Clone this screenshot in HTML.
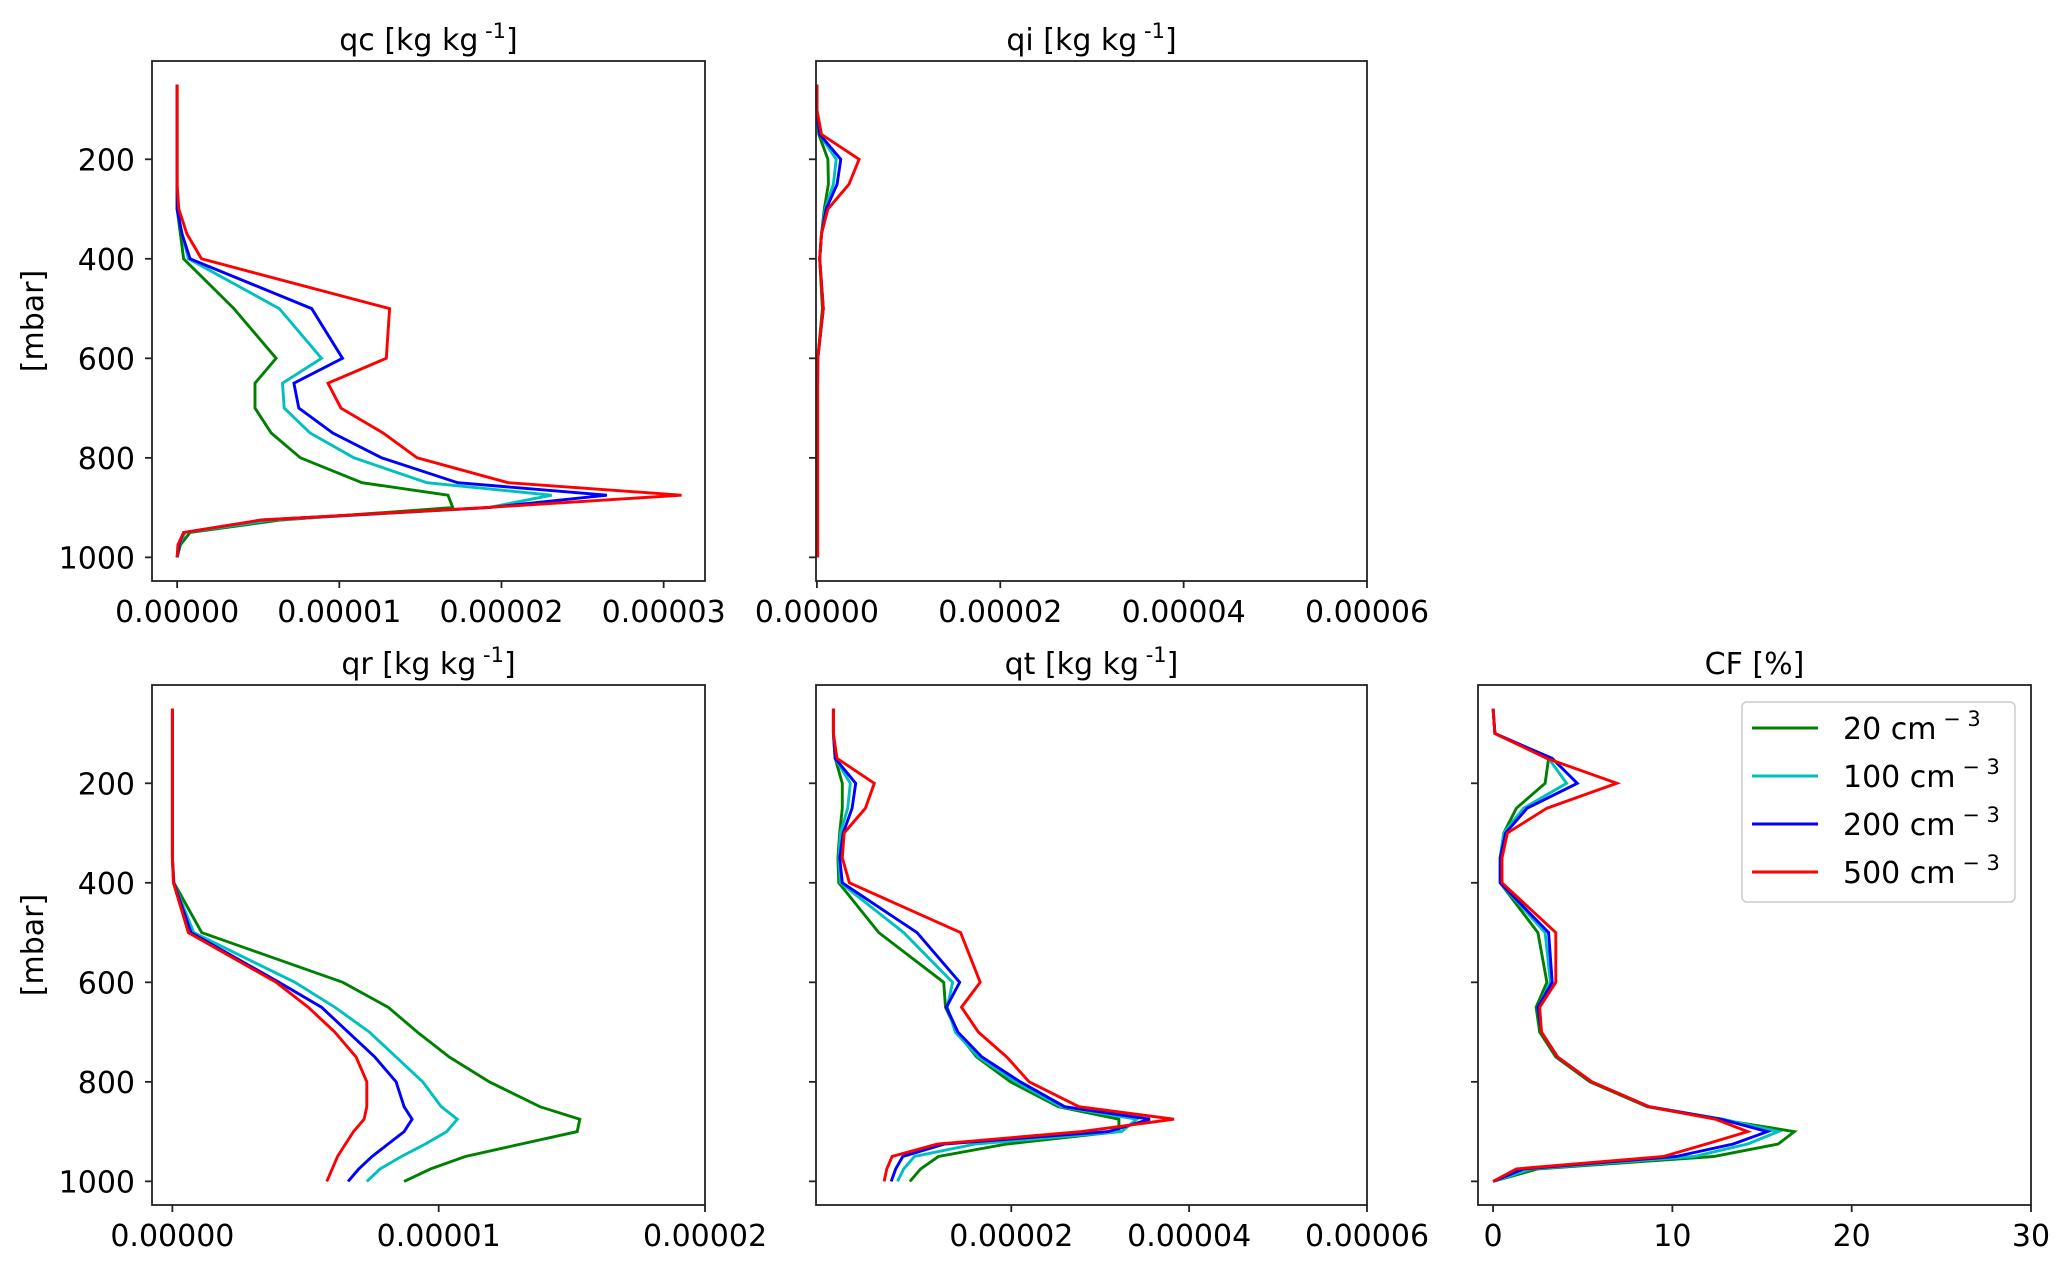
<!DOCTYPE html>
<html><head><meta charset="utf-8"><style>
html,body{margin:0;padding:0;background:#fff}
svg{display:block;font-family:"DejaVu Sans","Liberation Sans",sans-serif}
</style></head><body>
<svg id="fig" width="2067" height="1262" viewBox="0 0 2067 1262" xmlns="http://www.w3.org/2000/svg"></svg>
<script>
const levels=[50,100,150,200,250,300,350,400,500,600,650,700,750,800,850,875,900,925,950,975,1000];
const seriesNames=["20 cm","100 cm","200 cm","500 cm"];
const colors=["#008000","#00bfbf","#0000ff","#ff0000"];
// qc (units 1e-5)
const qcGreen=[0,0,0,0,0,0,0.02,0.04,0.35,0.61,0.48,0.48,0.58,0.76,1.14,1.67,1.70,0.64,0.08,0.02,0];
const qcCyan=[0,0,0,0,0,0,0.03,0.07,0.63,0.89,0.65,0.66,0.82,1.09,1.54,2.31,1.92,0.58,0.05,0.01,0];
const qcBlue=[0,0,0,0,0,0,0.03,0.08,0.83,1.02,0.72,0.75,0.96,1.26,1.73,2.65,1.92,0.52,0.04,0.01,0];
const qcRed=[0,0,0,0,0,0.01,0.06,0.15,1.31,1.29,0.93,1.01,1.27,1.48,2.04,3.11,1.90,0.52,0.04,0.005,0];
// qi (units 1e-6)
const qiGreen=[0,0,0.2,1.2,1.25,0.8,0.5,0.3,0.6,0.1,0.07,0.07,0.07,0.07,0.07,0.07,0.07,0.07,0.07,0.07,0.07];
const qiCyan=[0,0,0.3,2.1,1.8,0.9,0.5,0.3,0.7,0.1,0.07,0.07,0.07,0.07,0.07,0.07,0.07,0.07,0.07,0.07,0.07];
const qiBlue=[0,0,0.3,2.6,2.2,1.0,0.5,0.3,0.7,0.1,0.07,0.07,0.07,0.07,0.07,0.07,0.07,0.07,0.07,0.07,0.07];
const qiRed=[0,0,0.5,4.6,3.5,1.2,0.5,0.3,0.7,0.1,0.07,0.07,0.07,0.07,0.07,0.07,0.07,0.07,0.07,0.07,0.07];
// qr (units 1e-5)
const qrGreen=[0,0,0,0,0,0,0,0.006,0.11,0.64,0.81,0.92,1.04,1.19,1.38,1.53,1.52,1.31,1.10,0.97,0.87];
const qrCyan=[0,0,0,0,0,0,0,0.005,0.08,0.46,0.61,0.74,0.84,0.94,1.01,1.07,1.03,0.95,0.86,0.78,0.73];
const qrBlue=[0,0,0,0,0,0,0,0.005,0.07,0.40,0.56,0.66,0.76,0.84,0.87,0.90,0.87,0.81,0.75,0.70,0.66];
const qrRed=[0,0,0,0,0,0,0,0.004,0.06,0.39,0.51,0.61,0.69,0.73,0.73,0.72,0.68,0.65,0.62,0.60,0.58];
// qt (units 1e-5)
const qtGreen=[0,0,0.02,0.10,0.10,0.07,0.05,0.06,0.51,1.24,1.26,1.39,1.61,1.99,2.53,3.21,3.21,1.95,1.18,0.98,0.86];
const qtCyan=[0,0,0.02,0.19,0.16,0.08,0.06,0.08,0.79,1.34,1.28,1.37,1.63,2.05,2.56,3.41,3.24,1.60,0.91,0.79,0.72];
const qtBlue=[0,0,0.02,0.25,0.21,0.11,0.07,0.10,0.94,1.42,1.27,1.40,1.67,2.10,2.60,3.56,3.09,1.25,0.78,0.70,0.65];
const qtRed=[0,0,0.04,0.46,0.36,0.12,0.10,0.18,1.43,1.65,1.44,1.63,1.95,2.20,2.76,3.83,2.79,1.17,0.66,0.60,0.57];
// CF (%)
const cfGreen=[0,0.1,3.1,2.9,1.3,0.6,0.4,0.4,2.5,3.0,2.4,2.6,3.5,5.4,8.6,12.5,16.8,15.9,12.3,2.5,0];
const cfCyan=[0,0.1,3.1,4.1,1.7,0.6,0.4,0.4,2.9,3.2,2.5,2.7,3.6,5.5,8.7,12.8,15.9,14.2,11.2,2.1,0];
const cfBlue=[0,0.1,3.3,4.7,1.9,0.7,0.4,0.4,3.1,3.3,2.5,2.7,3.6,5.5,8.7,12.7,15.3,13.4,10.2,1.7,0];
const cfRed=[0,0.1,3.0,6.9,3.0,0.8,0.5,0.5,3.5,3.5,2.6,2.7,3.6,5.5,8.7,12.4,14.2,11.9,9.5,1.3,0];
const yTicks=[200,400,600,800,1000];
const qcTicks=["0.00000","0.00001","0.00002","0.00003"];
const qiTicks=["0.00000","0.00002","0.00004","0.00006"];
const qrTicks=["0.00000","0.00001","0.00002"];
const qtTicks=["0.00002","0.00004","0.00006"];
const cfTicks=["0","10","20","30"];

const NS="http://www.w3.org/2000/svg";
const svg=document.getElementById('fig');
function mk(tag,attrs,parent){const e=document.createElementNS(NS,tag);for(const k in attrs)e.setAttribute(k,attrs[k]);(parent||svg).appendChild(e);return e;}

const panels=[
 {name:"qc",title:"qc",unit:true,x0:152,x1:705,y0:61,y1:581,xmin:-1.55e-6,xmax:3.255e-5,scale:1e-5,ticks:qcTicks,step:1e-5,tickStart:0,series:[qcGreen,qcCyan,qcBlue,qcRed],ylabels:true},
 {name:"qi",title:"qi",unit:true,x0:816,x1:1367,y0:61,y1:581,xmin:-1e-7,xmax:6e-5,scale:1e-6,ticks:qiTicks,step:2e-5,tickStart:0,series:[qiGreen,qiCyan,qiBlue,qiRed],ylabels:false},
 {name:"qr",title:"qr",unit:true,x0:152,x1:705,y0:685,y1:1205,xmin:-7.65e-7,xmax:2e-5,scale:1e-5,ticks:qrTicks,step:1e-5,tickStart:0,series:[qrGreen,qrCyan,qrBlue,qrRed],ylabels:true},
 {name:"qt",title:"qt",unit:true,x0:816,x1:1367,y0:685,y1:1205,xmin:-1.96e-6,xmax:6e-5,scale:1e-5,ticks:qtTicks,step:2e-5,tickStart:2e-5,series:[qtGreen,qtCyan,qtBlue,qtRed],ylabels:false},
 {name:"cf",title:"CF [%]",unit:false,x0:1478,x1:2031,y0:685,y1:1205,xmin:-0.84,xmax:30,scale:1,ticks:cfTicks,step:10,tickStart:0,series:[cfGreen,cfCyan,cfBlue,cfRed],ylabels:false}
];

panels.forEach(p=>{
  const g=mk('g',{});
  
  
  const X=v=>p.x0+(v-p.xmin)/(p.xmax-p.xmin)*(p.x1-p.x0);
  const Y=v=>p.y0+(v-2.5)/(1047.5-2.5)*(p.y1-p.y0);
  p.series.forEach((s,i)=>{
    const pts=s.map((v,j)=>X(v*p.scale).toFixed(1)+','+Y(levels[j]).toFixed(1)).join(' ');
    const l=mk('polyline',{points:pts,fill:'none',stroke:colors[i],'stroke-width':2.9,'stroke-linejoin':'miter'},g);
    
    
  });
  const fr=mk('rect',{x:p.x0,y:p.y0,width:p.x1-p.x0,height:p.y1-p.y0,fill:'none',stroke:'#222','stroke-width':1.8},g);
  
  
  yTicks.forEach(t=>{
    const y=Y(t);
    mk('line',{x1:p.x0-7,x2:p.x0,y1:y,y2:y,stroke:'#222','stroke-width':1.8},g);
    if(p.ylabels){
      const tx=mk('text',{x:p.x0-17,y:y+11,'text-anchor':'end','font-size':30,fill:'#000'},g);
      tx.textContent=t;
      
      
    }
  });
  p.ticks.forEach((lab,i)=>{
    const x=X(p.tickStart+i*p.step);
    mk('line',{x1:x,x2:x,y1:p.y1,y2:p.y1+7,stroke:'#222','stroke-width':1.8},g);
    const tx=mk('text',{x:x,y:p.y1+41,'text-anchor':'middle','font-size':30,fill:'#000'},g);
    tx.textContent=lab;
    
    
  });
  const cx=(p.x0+p.x1)/2;
  const tt=mk('text',{x:cx,y:p.y0-11,'text-anchor':'middle','font-size':30,fill:'#000'},g);
  
  
  if(p.unit){
    const a=mk('tspan',{},tt);a.textContent=p.title+'  [kg kg';
    const b=mk('tspan',{'font-size':21,dy:-12},tt);b.textContent=' -1';
    const c=mk('tspan',{dy:12},tt);c.textContent=']';
  } else tt.textContent=p.title;
  if(p.ylabels){
    const yl=mk('text',{x:0,y:0,'text-anchor':'middle','font-size':30,fill:'#000',transform:'translate(43,'+((p.y0+p.y1)/2)+') rotate(-90)'},g);
    yl.textContent='[mbar]';
    
    
  }
});

const lg=mk('g',{});


mk('rect',{x:1742,y:702,width:273,height:200,rx:5,fill:'#fff',stroke:'#ccc','stroke-width':1.5},lg);
seriesNames.forEach((n,i)=>{
  const y=728+i*48;
  const l=mk('line',{x1:1752,x2:1818,y1:y,y2:y,stroke:colors[i],'stroke-width':2.9},lg);
  
  
  const t=mk('text',{x:1843,y:y+11,'font-size':30,fill:'#000'},lg);
  
  
  const a=mk('tspan',{},t);a.textContent=n;
  const b=mk('tspan',{'font-size':21,dy:-13},t);b.textContent=' \u2212 3';
});
</script>
</body></html>
